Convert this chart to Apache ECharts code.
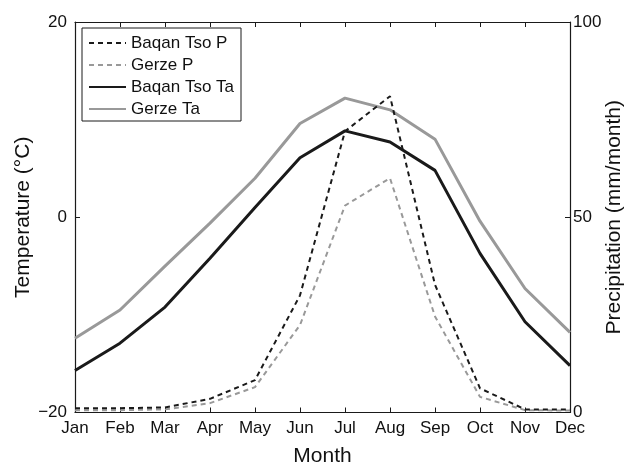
<!DOCTYPE html>
<html>
<head>
<meta charset="utf-8">
<script src="https://cdn.jsdelivr.net/npm/echarts@6/dist/echarts.min.js"></script>
<style>
  html, body { margin: 0; padding: 0; background: #fff; }
  #chart { width: 626px; height: 468px; }
</style>
</head>
<body>
<div id="chart"></div>
<script>
// Monthly climate: air temperature (°C) and precipitation (mm/month)
const months = ['Jan', 'Feb', 'Mar', 'Apr', 'May', 'Jun', 'Jul', 'Aug', 'Sep', 'Oct', 'Nov', 'Dec'];

const baqanTsoP = [1.1, 1.1, 1.3, 3.5, 8.3, 30, 72, 81, 32.7, 6.2, 0.8, 0.8];
const gerzeP    = [0.6, 0.6, 0.8, 2.4, 6.5, 22.4, 53, 60, 24.6, 4.0, 0.6, 0.5];
const baqanTsoTa = [-15.7, -12.9, -9.2, -4.2, 1.0, 6.1, 8.85, 7.7, 4.8, -3.7, -10.7, -15.2];
const gerzeTa    = [-12.4, -9.5, -5.0, -0.6, 4.0, 9.6, 12.2, 11.0, 8.0, -0.4, -7.3, -11.8];

const tempTicks = { min: -20, max: 20, interval: 20 };
const precipTicks = { min: 0, max: 100, interval: 50 };

const FONT = '"Liberation Sans", Arial, Helvetica, sans-serif';
const BLACK = '#1a1a1a';
const GREY = '#999999';
const TEXT = '#111111';

const minus = v => String(v).replace('-', '\u2212');

const chart = echarts.init(document.getElementById('chart'), null, { renderer: 'canvas' });

const axisLine = { show: true, onZero: false, lineStyle: { color: BLACK, width: 1.2 } };
const axisTick = { show: true, inside: true, length: 5, lineStyle: { color: BLACK, width: 1 } };
const tickFont = { color: TEXT, fontSize: 17, fontFamily: FONT };
const titleFont = { color: TEXT, fontSize: 21, fontFamily: FONT };

chart.setOption({
  animation: false,
  backgroundColor: '#ffffff',
  textStyle: { fontFamily: FONT },
  grid: {
    left: 75, right: 56, top: 22, bottom: 55.5,
    containLabel: false,
    outerBoundsMode: 'none'
  },
  legend: {
    orient: 'vertical',
    left: 82,
    top: 28,
    padding: [6, 7, 3, 6],
    itemWidth: 37,
    itemHeight: 14,
    itemGap: 4,
    backgroundColor: '#ffffff',
    borderColor: BLACK,
    borderWidth: 1,
    borderRadius: 0,
    itemStyle: { opacity: 0 },
    textStyle: { fontFamily: FONT, fontSize: 17, color: TEXT, lineHeight: 18 },
    data: ['Baqan Tso P', 'Gerze P', 'Baqan Tso Ta', 'Gerze Ta']
  },
  xAxis: [
    {
      type: 'category',
      data: months,
      boundaryGap: false,
      position: 'bottom',
      axisLine: axisLine,
      axisTick: Object.assign({}, axisTick, { alignWithLabel: true }),
      axisLabel: Object.assign({ margin: 7, interval: 0 }, tickFont),
      splitLine: { show: false },
      name: 'Month',
      nameLocation: 'middle',
      nameGap: 33,
      nameMoveOverlap: false,
      nameTextStyle: titleFont
    },
    {
      type: 'category',
      data: months,
      boundaryGap: false,
      position: 'top',
      axisLine: axisLine,
      axisTick: axisTick,
      axisLabel: { show: false },
      splitLine: { show: false }
    }
  ],
  yAxis: [
    {
      type: 'value',
      position: 'left',
      min: tempTicks.min,
      max: tempTicks.max,
      interval: tempTicks.interval,
      axisLine: axisLine,
      axisTick: axisTick,
      axisLabel: Object.assign({ margin: 8, formatter: minus }, tickFont),
      splitLine: { show: false },
      name: 'Temperature (\u00B0C)',
      nameLocation: 'middle',
      nameGap: 41,
      nameMoveOverlap: false,
      nameTextStyle: titleFont
    },
    {
      type: 'value',
      position: 'right',
      min: precipTicks.min,
      max: precipTicks.max,
      interval: precipTicks.interval,
      axisLine: axisLine,
      axisTick: axisTick,
      axisLabel: Object.assign({ margin: 3 }, tickFont),
      splitLine: { show: false },
      name: 'Precipitation (mm/month)',
      nameLocation: 'middle',
      nameGap: 34,
      nameRotate: 90,
      nameMoveOverlap: false,
      nameTextStyle: titleFont
    }
  ],
  series: [
    {
      name: 'Baqan Tso P', type: 'line', yAxisIndex: 1, data: baqanTsoP,
      symbol: 'none', lineStyle: { color: BLACK, width: 2, type: [5, 4] },
      itemStyle: { color: BLACK }, z: 3
    },
    {
      name: 'Gerze P', type: 'line', yAxisIndex: 1, data: gerzeP,
      symbol: 'none', lineStyle: { color: GREY, width: 2, type: [5, 4] },
      itemStyle: { color: GREY }, z: 2
    },
    {
      name: 'Baqan Tso Ta', type: 'line', yAxisIndex: 0, data: baqanTsoTa,
      symbol: 'none', lineStyle: { color: BLACK, width: 3 },
      itemStyle: { color: BLACK }, z: 4
    },
    {
      name: 'Gerze Ta', type: 'line', yAxisIndex: 0, data: gerzeTa,
      symbol: 'none', lineStyle: { color: GREY, width: 3 },
      itemStyle: { color: GREY }, z: 2
    }
  ]
});
</script>
</body>
</html>
